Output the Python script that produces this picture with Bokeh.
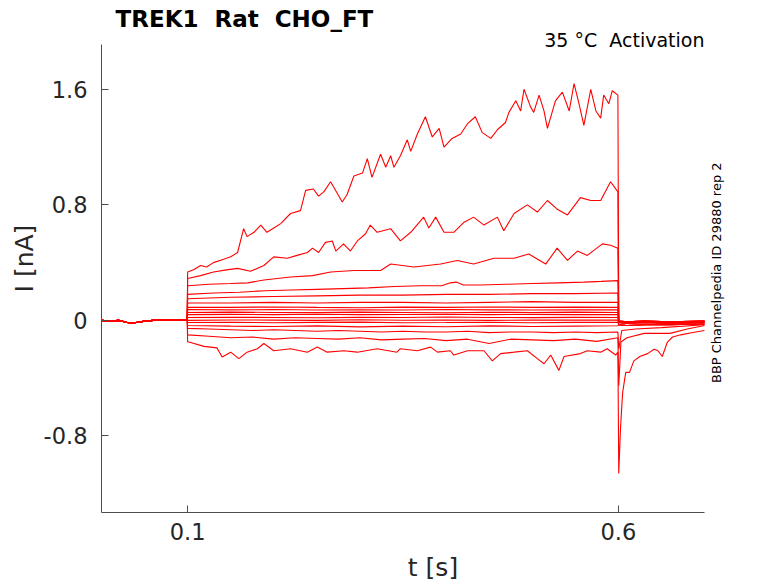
from math import pi

from bokeh.plotting import figure
from bokeh.models import Label, FixedTicker
from bokeh.embed import file_html
from bokeh.resources import INLINE


# holding current before the step, same for every sweep
t_pre = [0.0, 0.01, 0.02, 0.03, 0.035, 0.04, 0.045, 0.05, 0.06, 0.07, 0.08, 0.09, 0.0995]
i_pre = [0.0, -0.005, 0.0, -0.015, -0.02, -0.015, -0.01, -0.005, 0.0, 0.005, 0.0, 0.005, 0.005]

# largest sweep
t1 = [0.1, 0.107, 0.115, 0.122, 0.13, 0.14, 0.15, 0.158, 0.165, 0.169, 0.177, 0.185, 0.192,
      0.2, 0.208, 0.2195, 0.231, 0.237, 0.246, 0.252, 0.258, 0.266, 0.2795, 0.285, 0.293, 0.303,
      0.3086, 0.314, 0.324, 0.33, 0.3357, 0.3395, 0.347, 0.355, 0.359, 0.3667, 0.376, 0.384,
      0.392, 0.3976, 0.407, 0.417, 0.4247, 0.434, 0.442, 0.452, 0.4596, 0.469, 0.473, 0.481,
      0.4866, 0.4905, 0.498, 0.5018, 0.508, 0.5137, 0.5177, 0.527, 0.535, 0.543, 0.5486, 0.554,
      0.56, 0.568, 0.574, 0.5795, 0.583, 0.589, 0.593, 0.5995]
i1 = [0.335, 0.35, 0.38, 0.37, 0.40, 0.42, 0.44, 0.47, 0.635, 0.58, 0.61, 0.66, 0.61,
      0.64, 0.67, 0.74, 0.76, 0.90, 0.91, 0.86, 0.89, 0.96, 0.82, 0.87, 1.00, 1.02,
      1.12, 0.99, 1.15, 1.06, 1.14, 1.06, 1.14, 1.25, 1.17, 1.29, 1.41, 1.27,
      1.33, 1.20, 1.26, 1.29, 1.36, 1.41, 1.30, 1.26, 1.32, 1.37, 1.44, 1.52,
      1.45, 1.60, 1.48, 1.44, 1.56, 1.45, 1.33, 1.52, 1.58, 1.45, 1.64, 1.51,
      1.35, 1.60, 1.45, 1.40, 1.56, 1.50, 1.59, 1.56]

t2 = [0.1, 0.115, 0.13, 0.145, 0.158, 0.173, 0.1885, 0.2, 0.2157, 0.227, 0.239, 0.245, 0.252,
      0.26, 0.268, 0.272, 0.281, 0.289, 0.297, 0.3066, 0.312, 0.32, 0.3357, 0.347, 0.359, 0.374,
      0.38, 0.388, 0.3976, 0.409, 0.421, 0.432, 0.444, 0.4596, 0.467, 0.479, 0.4944, 0.506,
      0.5177, 0.529, 0.541, 0.556, 0.568, 0.5795, 0.591, 0.5995]
i2 = [0.29, 0.31, 0.335, 0.35, 0.36, 0.34, 0.38, 0.44, 0.43, 0.45, 0.47, 0.50, 0.47,
      0.54, 0.55, 0.48, 0.53, 0.48, 0.55, 0.60, 0.66, 0.61, 0.635, 0.55, 0.61, 0.715,
      0.64, 0.715, 0.61, 0.61, 0.68, 0.715, 0.66, 0.715, 0.62, 0.74, 0.80, 0.75,
      0.83, 0.77, 0.73, 0.85, 0.83, 0.83, 0.96, 0.89]

t3 = [0.1, 0.125, 0.15, 0.17, 0.1885, 0.2195, 0.245, 0.266, 0.293, 0.324, 0.3357, 0.3628,
      0.3937, 0.413, 0.432, 0.4556, 0.479, 0.496, 0.5157, 0.529, 0.541, 0.5525, 0.564,
      0.5815, 0.591, 0.5995]
i3 = [0.24, 0.25, 0.255, 0.26, 0.28, 0.30, 0.31, 0.335, 0.345, 0.345, 0.39, 0.37,
      0.39, 0.415, 0.39, 0.43, 0.43, 0.46, 0.39, 0.50, 0.415, 0.48, 0.45,
      0.53, 0.52, 0.50]

t4 = [0.1, 0.13, 0.16, 0.19, 0.22, 0.25, 0.28, 0.31, 0.34, 0.37, 0.395, 0.405, 0.412, 0.42,
      0.44, 0.47, 0.5, 0.53, 0.56, 0.58, 0.5995]
i4 = [0.18, 0.19, 0.195, 0.205, 0.21, 0.215, 0.22, 0.225, 0.235, 0.24, 0.24, 0.26, 0.265, 0.245,
      0.245, 0.25, 0.255, 0.26, 0.265, 0.27, 0.275]

# nearly flat sweeps
t_flat = [0.1, 0.15, 0.2, 0.25, 0.3, 0.35, 0.4, 0.45, 0.5, 0.55, 0.5995]
i5 = [0.15, 0.16, 0.165, 0.17, 0.175, 0.175, 0.18, 0.18, 0.185, 0.185, 0.19]
i6 = [0.12, 0.12, 0.125, 0.12, 0.125, 0.125, 0.12, 0.125, 0.13, 0.125, 0.125]
i7 = [0.09, 0.09, 0.093, 0.09, 0.088, 0.092, 0.09, 0.093, 0.09, 0.092, 0.09]
i8 = [0.075, 0.073, 0.075, 0.072, 0.074, 0.072, 0.075, 0.073, 0.072, 0.074, 0.073]
i9 = [0.055, 0.057, 0.055, 0.054, 0.057, 0.055, 0.053, 0.056, 0.055, 0.057, 0.055]
i10 = [0.04, 0.042, 0.04, 0.043, 0.04, 0.041, 0.043, 0.04, 0.042, 0.04, 0.041]
i11 = [0.02, 0.022, 0.02, 0.018, 0.021, 0.02, 0.023, 0.02, 0.019, 0.021, 0.02]
i12 = [0.0, 0.003, 0.002, 0.0, 0.004, 0.001, 0.003, 0.0, 0.003, 0.002, 0.003]
i13 = [-0.015, -0.013, -0.016, -0.014, -0.012, -0.016, -0.015, -0.013, -0.016, -0.014, -0.014]
i14 = [-0.035, -0.04, -0.042, -0.038, -0.045, -0.04, -0.044, -0.038, -0.042, -0.04, -0.037]

# inward sweeps
t_mid = [0.1, 0.125, 0.15, 0.175, 0.2, 0.225, 0.25, 0.275, 0.3, 0.325, 0.35, 0.375, 0.4,
         0.425, 0.45, 0.475, 0.5, 0.525, 0.55, 0.575, 0.5995]
i15 = [-0.055, -0.06, -0.065, -0.07, -0.065, -0.07, -0.075, -0.07, -0.075, -0.08, -0.075,
       -0.08, -0.08, -0.075, -0.085, -0.08, -0.08, -0.085, -0.08, -0.085, -0.08]
i16 = [-0.10, -0.11, -0.12, -0.115, -0.13, -0.12, -0.125, -0.13, -0.12, -0.135, -0.13,
       -0.125, -0.14, -0.13, -0.16, -0.13, -0.135, -0.14, -0.13, -0.145, -0.12]

t17 = [0.1, 0.1014, 0.119, 0.134, 0.14, 0.15, 0.1595, 0.169, 0.181, 0.1885, 0.2, 0.2195, 0.239,
       0.2505, 0.262, 0.2815, 0.297, 0.32, 0.343, 0.347, 0.3667, 0.382, 0.39, 0.405, 0.409,
       0.425, 0.444, 0.4537, 0.4634, 0.479, 0.4944, 0.506, 0.5137, 0.5215, 0.531, 0.537,
       0.556, 0.564, 0.5795, 0.587, 0.597, 0.5995]
i17 = [-0.15, -0.15, -0.18, -0.19, -0.254, -0.22, -0.265, -0.22, -0.196, -0.16, -0.21, -0.196,
       -0.22, -0.185, -0.22, -0.21, -0.22, -0.196, -0.22, -0.196, -0.21, -0.185, -0.22, -0.21,
       -0.24, -0.21, -0.21, -0.28, -0.23, -0.22, -0.21, -0.265, -0.30, -0.24, -0.346, -0.25,
       -0.23, -0.21, -0.22, -0.196, -0.24, -0.22]

# after the step
t_tail = [0.6005, 0.61, 0.63, 0.66, 0.7]
tail_a = [-0.005, -0.01, -0.005, -0.01, -0.005]
tail_b = [-0.015, -0.02, -0.015, -0.02, -0.015]
tail_c = [-0.03, -0.035, -0.03, -0.03, -0.025]

t15_tail = [0.6005, 0.604, 0.62, 0.65, 0.7]
i15_tail = [-0.2, -0.07, -0.06, -0.05, -0.03]
t16_tail = [0.6005, 0.603, 0.61, 0.63, 0.66, 0.68, 0.7]
i16_tail = [-0.45, -0.15, -0.12, -0.09, -0.09, -0.06, -0.035]
t17_tail = [0.6005, 0.6025, 0.605, 0.6086, 0.613, 0.618, 0.625, 0.634, 0.6415, 0.646, 0.651,
            0.657, 0.663, 0.6725, 0.685, 0.7]
i17_tail = [-1.06, -0.75, -0.5, -0.36, -0.36, -0.28, -0.25, -0.23, -0.2, -0.21, -0.25,
            -0.15, -0.115, -0.1, -0.085, -0.07]

y_ticks = [-0.8, 0, 0.8, 1.6]
x_ticks = [0.1, 0.6]

FONT = "DejaVu Sans"
INK = "#262626"
NBSP = "\u00a0"  # svg text collapses runs of plain spaces

T_MAX, I_MIN, I_MAX = 0.7, -1.33, 1.91


def main() -> None:
    # frame is wider/taller than the axes so the notes around them are not clipped
    p = figure(frame_width=663, frame_height=508, x_range=(0.0, 0.7697), y_range=(I_MIN, 2.187),
               output_backend="svg", toolbar_location=None, title_location=None,
               min_border_left=101, min_border_right=5, min_border_top=4, min_border_bottom=66)
    p.grid.visible = False
    p.outline_line_color = None

    sweeps = [
        (t1, i1, t_tail, tail_a), (t2, i2, t_tail, tail_a), (t3, i3, t_tail, tail_a),
        (t4, i4, t_tail, tail_a), (t_flat, i5, t_tail, tail_a), (t_flat, i6, t_tail, tail_b),
        (t_flat, i7, t_tail, tail_b), (t_flat, i8, t_tail, tail_b), (t_flat, i9, t_tail, tail_b),
        (t_flat, i10, t_tail, tail_b), (t_flat, i11, t_tail, tail_c), (t_flat, i12, t_tail, tail_c),
        (t_flat, i13, t_tail, tail_c), (t_flat, i14, t_tail, tail_c),
        (t_mid, i15, t15_tail, i15_tail), (t_mid, i16, t16_tail, i16_tail),
        (t17, i17, t17_tail, i17_tail),
    ]
    for ts, vs, tt, vt in sweeps:
        p.line(t_pre + ts + tt, i_pre + vs + vt, color="#ff0000", line_width=1.1)

    p.xaxis.ticker = FixedTicker(ticks=x_ticks)
    p.yaxis.ticker = FixedTicker(ticks=y_ticks)
    p.xaxis.bounds = (0.0, T_MAX)
    p.yaxis.bounds = (I_MIN, I_MAX)
    p.yaxis.major_label_overrides = {-0.8: "-0.8", 0: "0", 0.8: "0.8", 1.6: "1.6"}
    for ax in (p.xaxis[0], p.yaxis[0]):
        ax.axis_line_color = "#4d4d4d"
        ax.major_tick_line_color = "#4d4d4d"
        ax.major_tick_in = 7
        ax.major_tick_out = 0
        ax.minor_tick_line_color = None
        ax.major_label_text_font = FONT
        ax.major_label_text_font_size = "22.5px"
        ax.major_label_text_color = INK
        ax.axis_label_text_font = FONT
        ax.axis_label_text_font_size = "25px"
        ax.axis_label_text_font_style = "normal"
        ax.axis_label_text_color = INK
    p.xaxis.axis_label = "t [s]"
    p.yaxis.axis_label = "I [nA]"
    p.xaxis.major_label_standoff = 10
    p.yaxis.major_label_standoff = 14
    p.xaxis.axis_label_standoff = 10
    p.yaxis.axis_label_standoff = 2

    p.add_layout(Label(x=0.0163, y=2.09, text=f"TREK1{NBSP} Rat{NBSP} CHO_FT", text_font=FONT,
                       text_font_style="bold", text_font_size="23px", text_color="black",
                       text_baseline="middle", text_align="left"))
    p.add_layout(Label(x=T_MAX, y=1.94, text=f"35 °C{NBSP} Activation",
                       text_font=FONT, text_font_size="19px", text_color="black",
                       text_baseline="alphabetic", text_align="right"))
    p.add_layout(Label(x=0.7139, y=0.33, text="BBP Channelpedia ID 29880 rep 2", text_font=FONT,
                       text_font_size="13px", text_color="black", angle=pi / 2,
                       text_baseline="middle", text_align="center"))

    open("out.html", "w").write(file_html(p, INLINE))


if __name__ == '__main__':
    main()
